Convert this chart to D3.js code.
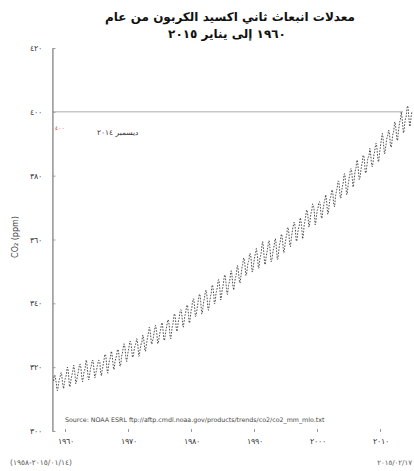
<!DOCTYPE html>
<html>
<head>
<meta charset="utf-8">
<script src="https://cdn.jsdelivr.net/npm/d3@7"></script>
<style>
  body { margin: 0; background: #fff; }
  svg { font-family: "DejaVu Sans", sans-serif; }
  .axis text { fill: #333; }
  .digits { direction: ltr; unicode-bidi: bidi-override; }
</style>
</head>
<body>
<div id="chart"></div>
<script>
// monthly mean CO2 at Mauna Loa (ppm), first value = March 1958
var startYear = 1958, startMonth = 3;
var co2_1958_1969 = [
    315.71, 317.45, 317.50, 317.10, 315.86, 314.93, 313.20, 312.66, 313.33, 314.67,
    315.62, 316.38, 316.71, 317.72, 318.29, 318.15, 316.54, 314.80, 313.84, 313.26, 314.80, 315.58,
    316.43, 316.97, 317.58, 319.02, 320.03, 319.59, 318.18, 315.91, 314.16, 313.83, 315.00, 316.19,
    316.93, 317.70, 318.54, 319.48, 320.58, 319.77, 318.57, 316.79, 314.80, 315.38, 316.10, 317.01,
    317.94, 318.56, 319.68, 320.63, 321.01, 320.55, 319.58, 317.40, 316.26, 315.42, 316.69, 317.69,
    318.74, 319.08, 319.86, 321.39, 322.25, 321.47, 319.74, 317.77, 316.21, 315.99, 317.12, 318.31,
    319.57, 320.07, 320.73, 321.77, 322.25, 321.89, 320.44, 318.70, 316.70, 316.79, 317.79, 318.71,
    319.44, 320.44, 320.89, 322.13, 322.16, 321.87, 321.39, 318.81, 317.81, 317.30, 318.87, 319.42,
    320.62, 321.59, 322.39, 323.87, 324.01, 323.75, 322.39, 320.37, 318.64, 318.10, 319.79, 321.08,
    322.07, 322.50, 323.04, 324.42, 325.00, 324.09, 322.55, 320.92, 319.31, 319.31, 320.72, 321.96,
    322.57, 323.15, 323.89, 325.02, 325.57, 325.36, 324.14, 322.03, 320.41, 320.25, 321.31, 322.84,
    324.00, 324.42, 325.64, 326.66, 327.34, 326.76, 325.88, 323.67, 322.38, 321.78, 322.85, 324.11
];
var co2_1970s = [
    325.03, 325.99, 326.87, 328.13, 328.07, 327.66, 326.35, 324.69, 323.10, 323.16, 323.98, 325.13,
    326.17, 326.68, 327.18, 327.78, 328.92, 328.57, 327.34, 325.46, 323.36, 323.57, 324.80, 326.01,
    326.77, 327.63, 327.75, 329.72, 330.07, 329.09, 328.05, 326.32, 324.93, 325.06, 326.50, 327.55,
    328.54, 329.56, 330.30, 331.50, 332.48, 332.07, 330.87, 329.31, 327.51, 327.18, 328.16, 328.64,
    329.35, 330.71, 331.48, 332.65, 333.09, 332.25, 331.18, 329.40, 327.43, 327.37, 328.46, 329.57,
    330.40, 331.40, 332.04, 333.31, 333.96, 333.59, 331.91, 330.06, 328.56, 328.34, 329.49, 330.76,
    331.75, 332.56, 333.50, 334.58, 334.87, 334.34, 333.05, 330.94, 329.30, 328.94, 330.31, 331.68,
    332.93, 333.42, 334.70, 336.07, 336.74, 336.27, 334.93, 332.75, 331.58, 331.16, 332.40, 333.85,
    334.97, 335.39, 336.64, 337.76, 338.01, 337.89, 336.54, 334.68, 332.76, 332.54, 333.92, 334.95,
    336.23, 336.76, 337.96, 338.89, 339.47, 339.29, 337.73, 336.09, 333.91, 333.86, 335.29, 336.73
];
var co2_1980s = [
    338.01, 338.36, 340.08, 340.77, 341.46, 341.17, 339.56, 337.60, 335.88, 336.01, 337.10, 338.21,
    339.24, 340.48, 341.38, 342.51, 342.91, 342.25, 340.49, 338.43, 336.69, 336.85, 338.36, 339.61,
    340.75, 341.61, 342.70, 343.56, 344.13, 343.35, 342.06, 339.82, 337.97, 337.86, 339.26, 340.49,
    341.38, 342.52, 343.10, 344.94, 345.75, 345.32, 343.99, 342.39, 339.86, 339.99, 341.16, 342.99,
    343.70, 344.51, 345.28, 347.08, 347.43, 346.79, 345.40, 343.28, 341.07, 341.35, 342.98, 344.22,
    344.97, 345.99, 347.42, 348.35, 348.93, 348.25, 346.56, 344.67, 343.09, 342.80, 344.24, 345.56,
    346.29, 346.96, 347.86, 349.55, 350.21, 349.54, 347.94, 345.91, 344.86, 344.17, 345.66, 346.90,
    348.02, 348.47, 349.42, 350.99, 351.84, 351.25, 349.52, 348.10, 346.44, 346.36, 347.81, 348.96,
    350.43, 351.72, 352.22, 353.59, 354.22, 353.79, 352.39, 350.44, 348.72, 348.88, 350.07, 351.34,
    352.76, 353.07, 353.68, 355.42, 355.67, 355.13, 353.90, 351.67, 349.80, 349.99, 351.30, 352.53
];
var co2_1990s = [
    353.66, 354.70, 355.39, 356.20, 357.16, 356.22, 354.82, 352.91, 350.96, 351.18, 352.83, 354.21,
    354.72, 355.75, 357.16, 358.60, 359.34, 358.24, 356.17, 354.03, 352.16, 352.21, 353.75, 354.99,
    355.98, 356.72, 357.81, 359.15, 359.66, 359.25, 357.02, 355.00, 353.01, 353.31, 354.16, 355.40,
    356.70, 357.16, 358.38, 359.46, 360.28, 359.60, 357.57, 355.52, 353.70, 353.98, 355.33, 356.80,
    358.36, 358.91, 359.97, 361.26, 361.69, 360.94, 359.55, 357.49, 355.84, 356.00, 357.58, 359.04,
    359.97, 361.00, 361.64, 363.45, 363.79, 363.26, 361.90, 359.46, 358.06, 357.75, 359.56, 360.70,
    362.05, 363.25, 364.03, 364.72, 365.41, 364.97, 363.65, 361.49, 359.46, 359.60, 360.76, 362.33,
    363.18, 363.99, 364.56, 366.36, 366.80, 365.63, 364.47, 362.50, 360.19, 360.78, 362.43, 364.28,
    365.33, 366.15, 367.31, 368.61, 369.29, 368.87, 367.64, 365.77, 363.90, 364.23, 365.46, 366.97,
    368.15, 368.87, 369.59, 371.14, 371.00, 370.35, 369.27, 366.94, 364.63, 365.12, 366.67, 368.01
];
var co2_2000s = [
    369.14, 369.46, 370.52, 371.66, 371.82, 371.70, 370.12, 368.12, 366.62, 366.73, 368.29, 369.53,
    370.28, 371.50, 372.12, 372.87, 374.02, 373.30, 371.62, 369.55, 367.96, 368.09, 369.68, 371.24,
    372.44, 373.08, 373.52, 374.85, 375.55, 375.40, 374.02, 371.48, 370.70, 370.25, 372.08, 373.78,
    374.68, 375.63, 376.11, 377.65, 378.35, 378.13, 376.62, 374.50, 372.99, 373.00, 374.35, 375.70,
    376.79, 377.36, 378.39, 380.50, 380.62, 379.55, 377.76, 375.83, 374.05, 374.22, 375.84, 377.44,
    378.34, 379.61, 380.08, 382.05, 382.24, 382.08, 380.67, 378.67, 376.42, 376.80, 378.31, 379.96,
    381.37, 382.02, 382.56, 384.37, 384.92, 384.03, 382.28, 380.48, 378.81, 379.06, 380.14, 381.66,
    382.58, 383.71, 384.34, 386.23, 386.41, 385.87, 384.45, 381.84, 380.86, 380.86, 382.36, 383.61,
    385.07, 385.84, 385.83, 386.77, 388.51, 388.05, 386.25, 384.08, 383.09, 382.78, 384.01, 385.11,
    386.65, 387.12, 388.52, 389.57, 390.16, 389.62, 388.07, 386.08, 384.65, 384.33, 386.05, 387.49
];
var co2_2010s = [
    388.55, 390.07, 391.01, 392.38, 393.22, 392.24, 390.33, 388.52, 386.84, 387.16, 388.67, 389.81,
    391.30, 391.92, 392.45, 393.37, 394.28, 393.69, 392.59, 390.21, 389.00, 388.93, 390.24, 391.80,
    393.07, 393.35, 394.36, 396.43, 396.87, 395.88, 394.52, 392.54, 391.13, 391.01, 392.95, 394.34,
    395.61, 396.85, 397.26, 398.35, 399.98, 398.87, 397.37, 395.41, 393.39, 393.70, 395.19, 396.82,
    397.92, 398.10, 399.47, 401.33, 401.88, 401.31, 399.07, 397.21, 395.40, 395.65, 397.22, 398.79,
    399.85
];

var xTicks = [1960, 1970, 1980, 1990, 2000, 2010];
var xTickLabels = ["١٩٦٠", "١٩٧٠", "١٩٨٠", "١٩٩٠", "٢٠٠٠", "٢٠١٠"];
var yTicks = [300, 320, 340, 360, 380, 400, 420];
var yTickLabels = ["٣٠٠", "٣٢٠", "٣٤٠", "٣٦٠", "٣٨٠", "٤٠٠", "٤٢٠"];
var refLevel = 400;

var width = 414, height = 471;

var svg = d3.select("#chart").append("svg")
    .attr("width", width)
    .attr("height", height);

var co2 = [].concat(co2_1958_1969, co2_1970s, co2_1980s, co2_1990s, co2_2000s, co2_2010s);
var data = co2.map(function(v, i) {
    var m = startMonth - 1 + i;
    return { t: startYear + (m + 0.5) / 12, v: v };
});

var x = d3.scaleLinear().domain([1958, 2015]).range([52.4, 411.5]);
var y = d3.scaleLinear().domain([300, 420]).range([431, 48]);

// title
svg.append("text")
    .attr("x", 230).attr("y", 21)
    .attr("text-anchor", "middle")
    .attr("font-size", 12).attr("font-weight", "bold")
    .attr("fill", "#111")
    .text("معدلات انبعاث ثاني اكسيد الكربون من عام");
svg.append("text")
    .attr("x", 227).attr("y", 38)
    .attr("text-anchor", "middle")
    .attr("font-size", 12).attr("font-weight", "bold")
    .attr("fill", "#111")
    .text("١٩٦٠ إلى يناير ٢٠١٥");

// 400 ppm reference line
svg.append("line")
    .attr("x1", x(1958)).attr("x2", 403)
    .attr("y1", y(refLevel)).attr("y2", y(refLevel))
    .attr("stroke", "#c8c8c8").attr("stroke-width", 1.5);

svg.append("text")
    .attr("x", 55).attr("y", 130)
    .attr("font-size", 6).attr("fill", "#d03030")
    .text("٤٠٠");

svg.append("text")
    .attr("x", 97).attr("y", 135)
    .attr("font-size", 7.5).attr("fill", "#333")
    .text("ديسمبر ٢٠١٤");

// y axis
var yAxis = d3.axisLeft(y)
    .tickValues(yTicks)
    .tickFormat(function(d, i) { return yTickLabels[i]; })
    .tickSize(3)
    .tickSizeOuter(0)
    .tickPadding(7);

var gy = svg.append("g")
    .attr("class", "axis y-axis")
    .attr("transform", "translate(" + x(1958) + ",0)")
    .call(yAxis);
gy.select(".domain").attr("stroke", "#9a9a9a").attr("stroke-width", 1.6);
gy.selectAll(".tick line").attr("stroke", "#999").attr("x2", 3);
gy.selectAll(".tick text").attr("font-size", 8);

svg.append("text")
    .attr("transform", "translate(18,237) rotate(-90)")
    .attr("text-anchor", "middle")
    .attr("font-size", 8).attr("fill", "#444")
    .text("CO₂ (ppm)");

// x axis (ticks only)
var xAxis = d3.axisBottom(x)
    .tickValues(xTicks)
    .tickFormat(function(d, i) { return xTickLabels[i]; })
    .tickSize(3)
    .tickPadding(7);

var gx = svg.append("g")
    .attr("class", "axis x-axis")
    .attr("transform", "translate(0,429)")
    .call(xAxis);
gx.select(".domain").remove();
gx.selectAll(".tick line").attr("stroke", "#999");
gx.selectAll(".tick text").attr("font-size", 7.5);

// the curve
var line = d3.line()
    .x(function(d) { return x(d.t); })
    .y(function(d) { return y(d.v); });

svg.append("path")
    .datum(data)
    .attr("fill", "none")
    .attr("stroke", "#222")
    .attr("stroke-width", 0.8)
    .attr("stroke-dasharray", "1.6,1.4")
    .attr("d", line);

// source note and footer
svg.append("text")
    .attr("x", 65).attr("y", 422)
    .attr("font-size", 6.3).attr("fill", "#444")
    .text("Source: NOAA ESRL ftp://aftp.cmdl.noaa.gov/products/trends/co2/co2_mm_mlo.txt");

svg.append("text")
    .attr("class", "digits")
    .attr("x", 10).attr("y", 465)
    .attr("font-size", 7.5).attr("fill", "#555")
    .text("(١٩٥٨-٢٠١٥/٠١/١٤)");

svg.append("text")
    .attr("class", "digits")
    .attr("x", 412).attr("y", 465)
    .attr("text-anchor", "end")
    .attr("font-size", 7).attr("fill", "#555")
    .text("٢٠١٥/٠٢/١٧");
</script>
</body>
</html>
